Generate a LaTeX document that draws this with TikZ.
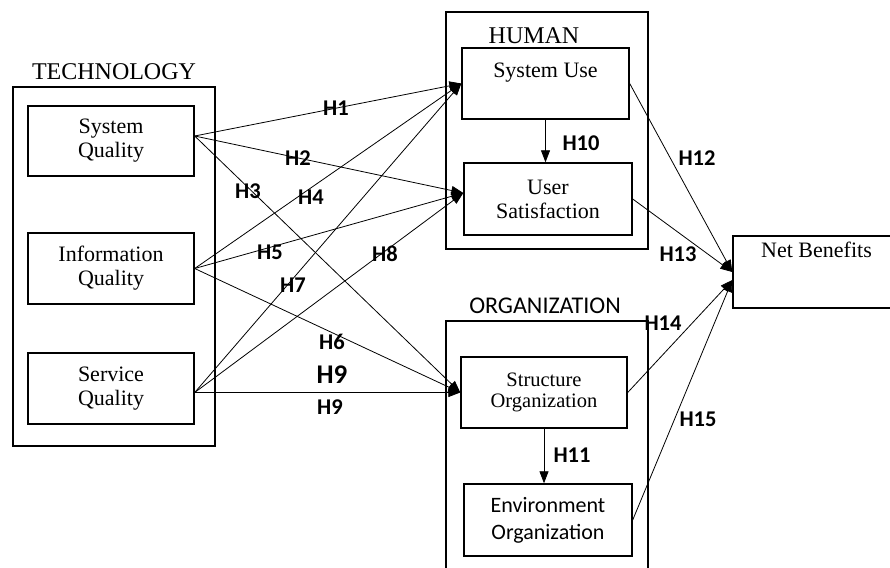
\documentclass[tikz,border=0pt]{standalone}
\usepackage{fontspec}
\setmainfont{Liberation Serif}
\newfontfamily\calibri{Carlito}
\usetikzlibrary{arrows.meta}

\begin{document}
\begin{tikzpicture}[x=1pt,y=-1pt,
  box/.style={draw,line width=1.4pt,minimum width=167pt,minimum height=71pt,inner sep=2pt,align=center,font=\fontsize{22}{24}\selectfont},
  grp/.style={line width=1.4pt},
  ttl/.style={font=\fontsize{24}{24}\selectfont,inner sep=0pt},
  hyp/.style={font=\calibri\bfseries\fontsize{22.5}{22.5}\selectfont,inner sep=0pt},
  link/.style={-{Triangle[length=12pt,width=9pt]},line width=0.8pt}]
  \useasboundingbox (0,0) rectangle (890,567);
  % technology
  \node[ttl] (tech) at (114,72) {TECHNOLOGY};
  \draw[grp] (13,87) rectangle (215,446);
  \node[box,minimum width=166pt,minimum height=70pt] (sysq) at (111,141) {System\\Quality};
  \node[box,minimum width=166pt] (infoq) at (111,268.5) {Information\\Quality};
  \node[box,minimum width=166pt] (servq) at (111,388.5) {Service\\Quality};
  % human
  \draw[grp] (446,12) rectangle (648,249);
  \node[ttl] (human) at (534,36) {HUMAN};
  \node[box,text depth=26pt] (sysuse) at (545.5,83.5) {System Use};
  \node[box,minimum width=168pt,minimum height=72pt] (usersat) at (548,199) {User\\Satisfaction};
  % organization
  \node[ttl,font=\calibri\fontsize{24}{24}\selectfont] (org) at (545,306) {ORGANIZATION};
  \draw[grp] (446,575) -- (446,321) -- (648,321) -- (648,575);
  \node[box,minimum width=166pt,font=\fontsize{20.5}{21}\selectfont] (strorg) at (544,392.5) {Structure\\Organization};
  \node[box,minimum width=168pt,minimum height=72pt,font=\calibri\fontsize{22}{27}\selectfont] (envorg) at (548,520) {Environment\\Organization};
  % net benefits
  \node[box,minimum height=72pt,text depth=45pt] (netben) at (816.5,272) {Net Benefits};

  \coordinate (sqout) at ([yshift=5pt]sysq.east);
  \coordinate (svout) at ([yshift=-4pt]servq.east);
  \coordinate (usin) at ([yshift=6pt]usersat.west);
  \coordinate (nbin) at ([yshift=-8pt]netben.west);

  \draw[link] (sqout) -- (sysuse.west);
  \draw[link] (sqout) -- (usin);
  \draw[link] (sqout) -- (strorg.west);
  \draw[link] (infoq.east) -- (sysuse.west);
  \draw[link] (infoq.east) -- (usin);
  \draw[link] (infoq.east) -- (strorg.west);
  \draw[link] (svout) -- (sysuse.west);
  \draw[link] (svout) -- (usin);
  \draw[link] (svout) -- (strorg.west);
  \draw[link] (sysuse.south) -- (sysuse.south |- usersat.north);
  \draw[link] (strorg.south) -- (strorg.south |- envorg.north);
  \draw[link] (sysuse.east) -- (netben.west);
  \draw[link] (usersat.east) -- (netben.west);
  \draw[link] (strorg.east) -- (nbin);
  \draw[link] (envorg.east) -- (nbin);

  % hypotheses
  \node[hyp] (h1) at (336,108) {H1};
  \node[hyp] (h2) at (298,158) {H2};
  \node[hyp] (h3) at (248,191) {H3};
  \node[hyp] (h4) at (311,197) {H4};
  \node[hyp] (h5) at (270,252) {H5};
  \node[hyp] (h6) at (332,342) {H6};
  \node[hyp] (h7) at (293,285) {H7};
  \node[hyp] (h8) at (385,254) {H8};
  \node[hyp,font=\calibri\bfseries\fontsize{27}{27}\selectfont] (h9a) at (332,375) {H9};
  \node[hyp] (h9) at (330,407) {H9};
  \node[hyp] (h10) at (581,143) {H10};
  \node[hyp] (h11) at (572,455) {H11};
  \node[hyp] (h12) at (697,158) {H12};
  \node[hyp] (h13) at (678,254) {H13};
  \node[hyp] (h14) at (663,323) {H14};
  \node[hyp] (h15) at (698,419) {H15};
\end{tikzpicture}
\end{document}
